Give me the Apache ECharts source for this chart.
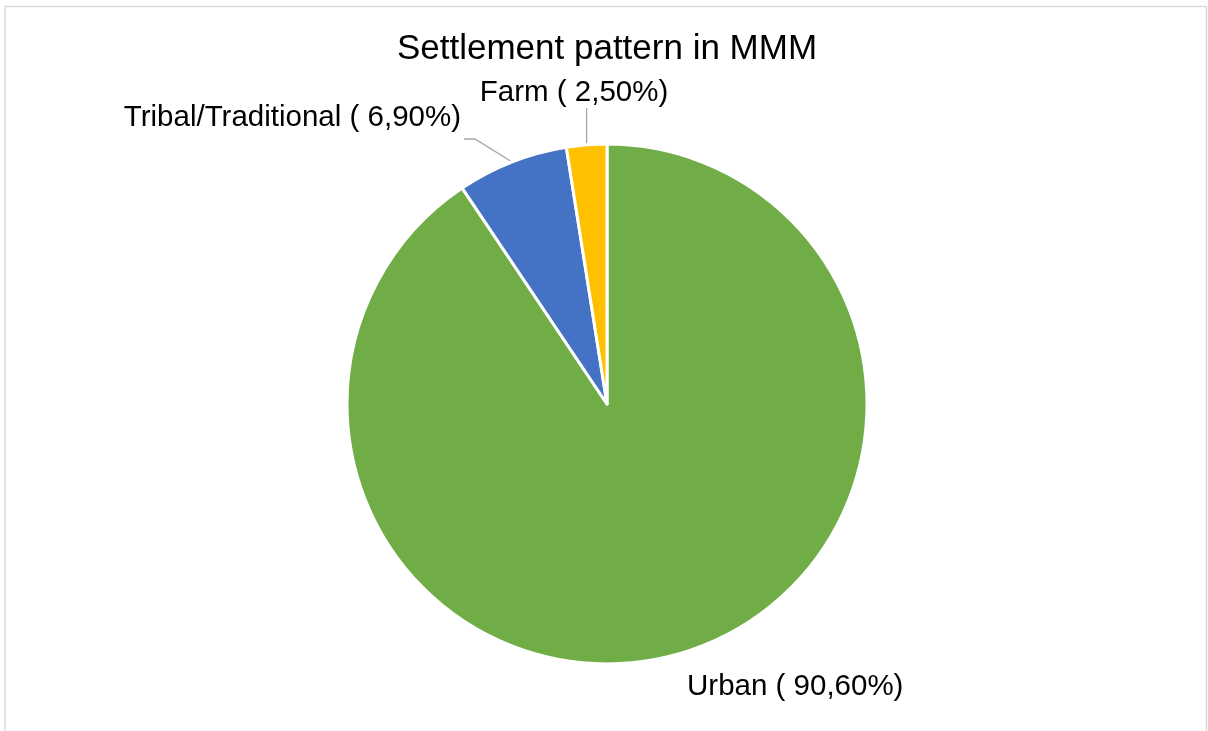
<!DOCTYPE html>
<html>
<head>
<meta charset="utf-8">
<title>Settlement pattern in MMM</title>
<script src="https://cdn.jsdelivr.net/npm/echarts@6/dist/echarts.min.js"></script>
<style>
  html, body { margin: 0; padding: 0; background: #ffffff; }
  #chart { width: 1208px; height: 731px; }
</style>
</head>
<body>
<div id="chart"></div>
<script>
// Settlement pattern shares (percent)
const categories = ['Urban', 'Tribal/Traditional', 'Farm'];
const shares = [90.6, 6.9, 2.5];
const sliceColors = ['#70AD47', '#4472C4', '#FFC000'];

const FONT = '"Liberation Sans", Arial, Helvetica, sans-serif';

// Where each label sits and how it is anchored
const labelSpots = [
  { x: 687, y: 687, align: 'left' },
  { x: 461, y: 118, align: 'right' },
  { x: 574, y: 93, align: 'center' }
];

function fmtPct(v) {
  return v.toFixed(2).replace('.', ',') + '%';
}

const chart = echarts.init(document.getElementById('chart'), null, { renderer: 'canvas' });

chart.setOption({
  backgroundColor: '#ffffff',
  animation: false,
  title: {
    text: 'Settlement pattern in MMM',
    left: 602,
    textAlign: 'center',
    top: 27,
    textStyle: { fontFamily: FONT, fontSize: 35, fontWeight: 'normal', color: '#000000' }
  },
  graphic: [{
    type: 'rect',
    silent: true,
    shape: { x: 5, y: 6.5, width: 1201.5, height: 760 },
    style: { fill: 'none', stroke: '#d9d9d9', lineWidth: 1.4 }
  }],
  series: [{
    type: 'pie',
    center: [607, 404],
    radius: 260,
    startAngle: 90,
    clockwise: true,
    avoidLabelOverlap: false,
    itemStyle: { borderColor: '#ffffff', borderWidth: 3 },
    label: {
      show: true,
      fontFamily: FONT,
      fontSize: 29.5,
      color: '#000000',
      formatter: p => p.name + ' ( ' + fmtPct(p.value) + ')'
    },
    labelLine: {
      show: true,
      length: 20,
      length2: 10,
      lineStyle: { color: '#a6a6a6', width: 1.3 }
    },
    labelLayout: function (params) {
      const i = params.dataIndex;
      const spot = labelSpots[i];
      const start = params.labelLinePoints ? params.labelLinePoints[0] : null;
      const out = { x: spot.x, y: spot.y, align: spot.align, verticalAlign: 'middle' };
      if (start) {
        if (i === 1) {
          const endX = spot.x + 3;
          const endY = spot.y + 21;
          out.labelLinePoints = [start, [endX + 11, endY], [endX, endY]];
        } else if (i === 2) {
          const topY = spot.y + 15;
          out.labelLinePoints = [start, [start[0], topY], [start[0], topY]];
        }
      }
      return out;
    },
    data: categories.map((name, i) => ({
      name: name,
      value: shares[i],
      itemStyle: { color: sliceColors[i] },
      labelLine: { show: i !== 0 }
    }))
  }]
});
</script>
</body>
</html>
